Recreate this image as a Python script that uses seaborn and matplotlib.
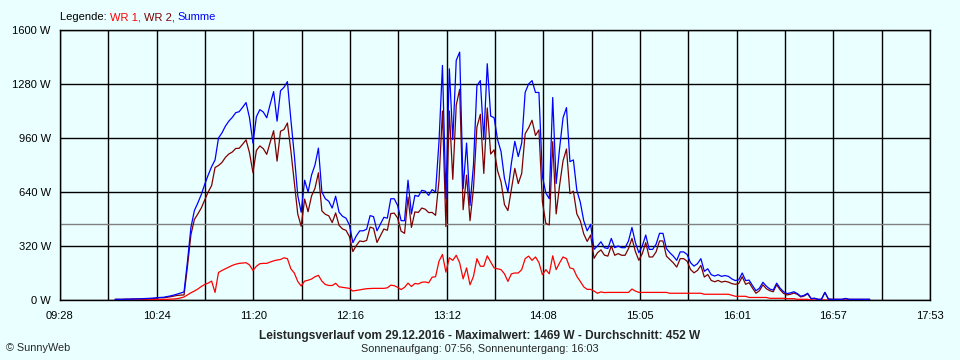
import matplotlib
matplotlib.use('Agg')
import matplotlib.pyplot as plt
import seaborn as sns
import numpy as np
import pandas as pd

# Messwerte im 2-Minuten-Raster ab 10:00 Uhr (Minuten seit Mitternacht)
start_min = 600
step_min = 2

summe = [
    4, 4, 4, 5, 5, 6, 6, 7, 8, 9,
    10, 11, 13, 15, 16, 20, 24, 29, 35, 41,
    48, 230, 430, 530, 575, 625, 685, 740, 790, 830,
    960, 990, 1030, 1060, 1082, 1110, 1116, 1142, 1170, 1080,
    930, 1086, 1128, 1114, 1080, 1160, 1235, 1060, 1240, 1260,
    1294, 1070, 860, 620, 520, 710, 640, 740, 800, 900,
    640, 600, 585, 545, 615, 520, 496, 485, 445, 340,
    380, 410, 410, 420, 500, 494, 410, 450, 490, 485,
    600, 600, 560, 470, 470, 710, 510, 620, 614, 650,
    645, 620, 654, 640, 940, 1390, 600, 1370, 950, 1420,
    1469, 660, 930, 560, 800, 1270, 1300, 950, 1400, 1090,
    1080, 950, 880, 720, 640, 810, 940, 850, 930, 1230,
    1280, 1300, 1230, 1230, 733, 634, 600, 1200, 690, 900,
    1080, 1140, 820, 830, 650, 580, 470, 410, 448, 300,
    320, 345, 310, 305, 365, 310, 320, 310, 310, 350,
    430, 340, 280, 320, 385, 300, 300, 330, 395, 395,
    305, 280, 260, 235, 285, 285, 270, 221, 201, 215,
    245, 170, 185, 150, 142, 150, 140, 145, 140, 125,
    115, 120, 160, 115, 118, 85, 55, 70, 105, 82,
    65, 59, 100, 70, 49, 38, 42, 49, 38, 22,
    28, 40, 8, 10, 4, 4, 45, 6, 4, 4,
    4, 4, 9, 4, 4, 4, 4, 4, 4, 4,
]

wr1 = [
    0, 0, 0, 0, 0, 0, 0, 0, 2, 2,
    2, 2, 2, 2, 3, 4, 5, 6, 8, 12,
    18, 30, 43, 53, 65, 80, 92, 100, 112, 45,
    163, 175, 185, 195, 205, 212, 217, 219, 221, 208,
    175, 200, 215, 217, 217, 225, 232, 237, 240, 250,
    245, 185, 160, 110, 83, 112, 117, 124, 138, 146,
    112, 92, 86, 86, 99, 78, 75, 72, 69, 53,
    57, 60, 64, 67, 68, 69, 69, 69, 69, 72,
    88, 85, 75, 62, 75, 100, 80, 98, 95, 105,
    107, 102, 135, 138, 230, 270, 165, 250, 235, 265,
    220, 125, 190, 90, 140, 245, 200, 200, 262, 225,
    190, 185, 180, 155, 110, 155, 160, 160, 180, 245,
    260, 235, 255, 222, 150, 180, 155, 262, 180, 220,
    255, 245, 190, 185, 140, 110, 78, 63, 63, 53,
    40, 48, 44, 45, 45, 45, 45, 45, 45, 45,
    65, 53, 45, 45, 45, 45, 45, 45, 45, 45,
    45, 40, 40, 40, 40, 40, 40, 40, 40, 40,
    40, 34, 34, 34, 34, 34, 34, 34, 34, 28,
    22, 22, 22, 22, 15, 15, 15, 15, 15, 15,
    10, 10, 10, 10, 10, 8, 8, 8, 4, 4,
    4, 4, 0, 0, 0, 0, 0, 0, 0, 0,
    0, 0, 0, 0, 0, 0, 0, 0, 0, 0,
]

x_tick_labels = ['09:28', '10:24', '11:20', '12:16', '13:12',
                 '14:08', '15:05', '16:01', '16:57', '17:53']
x_start, x_end = 568, 1073   # 09:28 .. 17:53
y_ticks = [0, 320, 640, 960, 1280, 1600]
avg_w = 452

series_colors = {'WR 1': '#ff0000', 'WR 2': '#800000', 'Summe': '#0000ff'}
bg = '#eaffff'

# Long-Format fuer seaborn
times = start_min + step_min * np.arange(len(summe))
summe_arr = np.array(summe)
wr1_arr = np.array(wr1)
df = pd.concat([
    pd.DataFrame({'zeit': times, 'leistung': wr1_arr, 'reihe': 'WR 1'}),
    pd.DataFrame({'zeit': times, 'leistung': summe_arr - wr1_arr, 'reihe': 'WR 2'}),
    pd.DataFrame({'zeit': times, 'leistung': summe_arr, 'reihe': 'Summe'}),
], ignore_index=True)

sns.set_style('white')
plt.rcParams['font.family'] = ['Liberation Sans', 'DejaVu Sans']

fig = plt.figure(figsize=(9.6, 3.6), dpi=100, facecolor=bg)
ax = fig.add_axes([60 / 960, 60 / 360, 870 / 960, 270 / 360])
ax.set_facecolor(bg)

sns.lineplot(data=df, x='zeit', y='leistung', hue='reihe',
             hue_order=['WR 1', 'WR 2', 'Summe'], palette=series_colors,
             estimator=None, legend=False, linewidth=0.9, ax=ax, zorder=3)

ax.axhline(avg_w, color='#808080', linewidth=1.0, zorder=1)

ax.set_xlim(x_start, x_end)
ax.set_ylim(0, 1600)
grid_x = np.linspace(x_start, x_end, 19)
ax.set_xticks(grid_x)
ax.set_xticklabels([x_tick_labels[i // 2] if i % 2 == 0 else '' for i in range(19)])
ax.set_yticks(y_ticks)
ax.set_yticklabels([f'{v} W' for v in y_ticks])
ax.set_xlabel('')
ax.set_ylabel('')

ax.grid(True, color='black', linewidth=1.0)
ax.set_axisbelow(True)
for sp in ax.spines.values():
    sp.set_color('black')
    sp.set_linewidth(1.0)
ax.tick_params(axis='both', length=3.6, width=1.0, color='black',
               labelsize=8, pad=3, labelcolor='black')
ax.tick_params(axis='x', pad=4)

# Legende oben links, farbige Woerter hintereinander
t = fig.text(60 / 960, 1 - 17 / 360, 'Legende: ', color='black',
             fontsize=8, va='center', ha='left')
for name, col in [('WR 1, ', series_colors['WR 1']),
                  ('WR 2, ', series_colors['WR 2']),
                  ('Summe', series_colors['Summe'])]:
    t = ax.annotate(name, xy=(1, 0), xycoords=t, color=col, fontsize=8,
                    va='bottom', ha='left')

fig.text(0.5, 1 - 336 / 360,
         'Leistungsverlauf vom 29.12.2016 - Maximalwert: 1469 W - Durchschnitt: 452 W',
         ha='center', va='center', fontsize=8.6, fontweight='bold')
fig.text(0.5, 1 - 349 / 360, 'Sonnenaufgang: 07:56, Sonnenuntergang: 16:03',
         ha='center', va='center', fontsize=7.8)
fig.text(6 / 960, 1 - 348 / 360, '© SunnyWeb', ha='left', va='center', fontsize=7.8)

fig.savefig('out.png', dpi=100, facecolor=bg)
